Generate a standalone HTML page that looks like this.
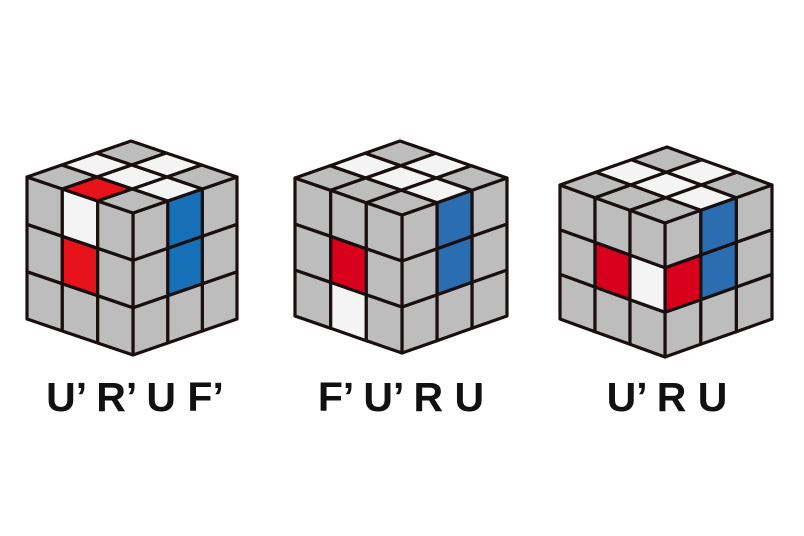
<!DOCTYPE html>
<html><head><meta charset="utf-8"><style>
html,body{margin:0;padding:0;background:#fff;}
svg{display:block;}
</style></head><body>
<svg id="s" width="804" height="536" viewBox="0 0 804 536" xmlns="http://www.w3.org/2000/svg">
<text x="135" y="411" text-anchor="middle" font-family="Liberation Sans, sans-serif" font-weight="bold" font-size="41" fill="#111">U’ R’ U F’</text>
<text x="401" y="411" text-anchor="middle" font-family="Liberation Sans, sans-serif" font-weight="bold" font-size="41" fill="#111">F’ U’ R U</text>
<text x="667" y="411" text-anchor="middle" font-family="Liberation Sans, sans-serif" font-weight="bold" font-size="41" fill="#111">U’ R U</text>
</svg>
<script>
const G='#bdbdbd',W='#f4f4f4';
const cubes=[
 {F:[133,213],L:[27,177],R:[237,177],H:142,
  top:{'2,1':W,'1,1':W,'1,2':W,'0,1':W,'1,0':'#e8121a'},
  left:{'1,0':W,'1,1':'#e8121a'},right:{'1,0':'#1670b8','1,1':'#1670b8'}},
 {F:[402,215],L:[295,178],R:[507,178],H:138,
  top:{'2,1':W,'1,1':W,'1,2':W,'0,1':W},
  left:{'1,1':'#d9001e','1,2':W},right:{'1,0':'#2a6db0','1,1':'#2a6db0'}},
 {F:[665,223],L:[560,185],R:[772,185],H:134,
  top:{'2,1':W,'1,1':W,'1,2':W,'0,1':W},
  left:{'1,1':'#d9001e','0,1':W},right:{'0,1':'#d9001e','1,1':'#2a6db0','1,0':'#2a6db0'}}
];
const svg=document.getElementById('s');
const NS='http://www.w3.org/2000/svg';
function poly(pts,fill,name){
 const p=document.createElementNS(NS,'polygon');
 p.setAttribute('points',pts.map(q=>q[0].toFixed(1)+','+q[1].toFixed(1)).join(' '));
 p.setAttribute('fill',fill);
 p.setAttribute('stroke','#1a0f0f');
 p.setAttribute('stroke-width','3.2');
 p.setAttribute('stroke-linejoin','round');
 
 
 svg.insertBefore(p,svg.firstChild);
}
cubes.forEach((c,k)=>{
 const F=c.F,L=c.L,R=c.R,H=c.H;
 const a=[L[0]-F[0],L[1]-F[1]],b=[R[0]-F[0],R[1]-F[1]];
 const top=(u,v)=>[F[0]+u*a[0]+v*b[0],F[1]+u*a[1]+v*b[1]];
 const lf=(u,h)=>[F[0]+u*a[0],F[1]+u*a[1]+h*H];
 const rf=(v,h)=>[F[0]+v*b[0],F[1]+v*b[1]+h*H];
 for(let i=0;i<3;i++)for(let j=0;j<3;j++){
  const f=(x,y)=>top(x/3,y/3);
  poly([f(i,j),f(i+1,j),f(i+1,j+1),f(i,j+1)],c.top[i+','+j]||G,'cube'+(k+1)+'-top-sticker');
  const g=(x,y)=>lf(x/3,y/3);
  poly([g(i,j),g(i+1,j),g(i+1,j+1),g(i,j+1)],c.left[i+','+j]||G,'cube'+(k+1)+'-left-sticker');
  const r=(x,y)=>rf(x/3,y/3);
  poly([r(i,j),r(i+1,j),r(i+1,j+1),r(i,j+1)],c.right[i+','+j]||G,'cube'+(k+1)+'-right-sticker');
 }
});
</script>
</body></html>
